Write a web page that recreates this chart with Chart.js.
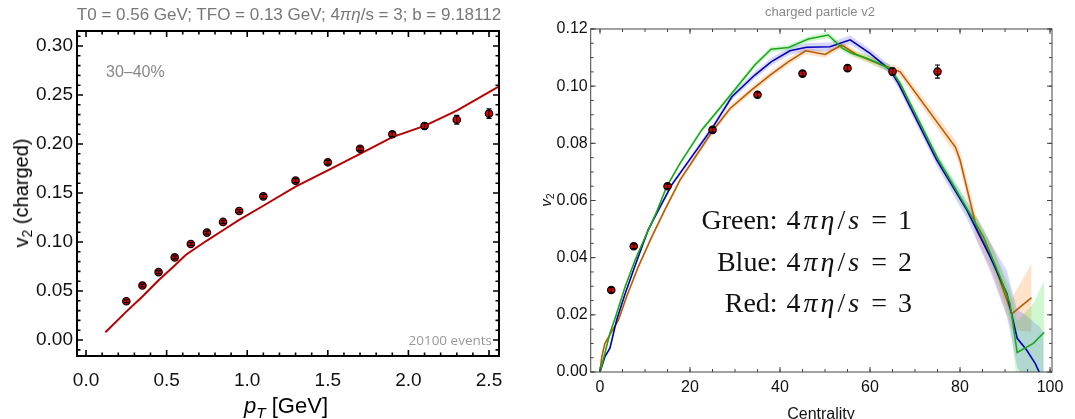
<!DOCTYPE html>
<html>
<head>
<meta charset="utf-8">
<script src="https://cdn.jsdelivr.net/npm/chart.js@4.4.0/dist/chart.umd.min.js"></script>
<style>
  body { margin: 0; width: 1075px; height: 419px; overflow: hidden; background: #fff; position: relative;
         font-family: "Liberation Sans", Arial, sans-serif; }
  canvas { position: absolute; top: 0; }
  #ptChart { left: 0; }
  #centChart { left: 540px; }
  .t { position: absolute; white-space: nowrap; line-height: 1; }
  .c { transform: translate(-50%, -50%); }
  .rot { transform: translate(-50%, -50%) rotate(-90deg); }
  .sub { font-size: 0.7em; position: relative; top: 0.3em; }
  .math { font-family: "Liberation Serif", "Times New Roman", serif; font-size: 28px; color: #111; transform: translateY(-50%); }
  .math .f { letter-spacing: 3px; margin-left: 9px; }
  .math .eq { margin: 0 11px 0 9px; }
</style>
</head>
<body>
<canvas id="ptChart" width="540" height="419"></canvas>
<canvas id="centChart" width="535" height="419"></canvas>

<!-- left panel texts -->
<div class="t c" style="left:289px;top:14px;font-size:17px;color:#777;">T0 = 0.56 GeV; TFO = 0.13 GeV; 4<i>πη</i>/s = 3; b = 9.18112</div>
<div class="t" style="left:106px;top:64px;font-size:16px;color:#888;">30–40%</div>
<div class="t" style="right:583px;top:334px;font-size:13.5px;color:#999;font-family:'Open Sans',sans-serif;">20100 events</div>
<div class="t rot" style="left:21px;top:193px;font-size:20px;color:#000;">v<span class="sub">2</span> (charged)</div>
<div class="t c" style="left:286px;top:406px;font-size:22px;color:#000;"><i>p</i><span class="sub"><i>T</i></span> [GeV]</div>

<!-- right panel texts -->
<div class="t c" style="left:820px;top:11px;font-size:13px;color:#888;">charged particle v2</div>
<div class="t rot" style="left:545px;top:200px;font-size:15px;color:#111;"><i>v</i><span class="sub">2</span></div>
<div class="t c" style="left:821px;top:414px;font-size:16px;color:#111;">Centrality</div>
<div class="t math" style="right:163px;top:220px;">Green:<span class="f">4<i>πη</i>/<i>s</i></span><span class="eq">=</span>1</div>
<div class="t math" style="right:163px;top:262px;">Blue:<span class="f">4<i>πη</i>/<i>s</i></span><span class="eq">=</span>2</div>
<div class="t math" style="right:163px;top:303px;">Red:<span class="f">4<i>πη</i>/<i>s</i></span><span class="eq">=</span>3</div>

<script>
// ---- left panel: v2(pT), 30-40% ----
const ptX   = [0.25, 0.35, 0.45, 0.55, 0.65, 0.75, 0.85, 0.95, 1.1, 1.3, 1.5, 1.7, 1.9, 2.1, 2.3, 2.5];
const ptV2  = [0.0396, 0.0556, 0.0693, 0.0843, 0.0980, 0.1096, 0.1205, 0.1317, 0.1466, 0.1626, 0.1813, 0.1952, 0.2099, 0.2184, 0.2248, 0.2310];
const ptErr = [0.0015, 0.0015, 0.0015, 0.0015, 0.0015, 0.0015, 0.0015, 0.0015, 0.002, 0.002, 0.002, 0.002, 0.0025, 0.003, 0.0045, 0.0048];
const hydroPt = [0.12, 0.25, 0.35, 0.45, 0.55, 0.62, 0.75, 0.85, 0.95, 1.1, 1.3, 1.5, 1.7, 1.9, 2.1, 2.3, 2.6];
const hydroV2 = [0.008, 0.029, 0.0445, 0.061, 0.076, 0.087, 0.1015, 0.112, 0.1225, 0.137, 0.1565, 0.173, 0.190, 0.207, 0.2185, 0.234, 0.2625];
const ptTicksX = [0, 0.5, 1.0, 1.5, 2.0, 2.5];
const ptTicksY = [0, 0.05, 0.10, 0.15, 0.20, 0.25, 0.30];

// ---- right panel: v2 vs centrality ----
const centX   = [2.5, 7.5, 15, 25, 35, 45, 55, 65, 75];
const centV2  = [0.0287, 0.0440, 0.0650, 0.0847, 0.0970, 0.1044, 0.1063, 0.1051, 0.1051];
const centErr = [0.0008, 0.0008, 0.0008, 0.0008, 0.0009, 0.0009, 0.001, 0.0012, 0.0023];

const greenX = [0, 0.7, 2.2, 3.7, 5.6, 7.8, 10.4, 12.6, 14.8, 17.7, 22.6, 26.3, 31.1, 34.4, 38.0, 41.9, 46.3, 50.7, 53.9, 55.9, 59.3, 64.4, 66.7, 75.2, 82.2, 85.2, 88.9, 91.1, 92.7, 96.3, 98.7];
const greenY = [0, 0.0042, 0.0135, 0.0205, 0.0299, 0.0392, 0.0485, 0.0561, 0.0648, 0.0728, 0.0847, 0.0917, 0.1010, 0.1074, 0.1129, 0.1135, 0.1165, 0.1179, 0.1132, 0.1115, 0.1098, 0.1062, 0.1010, 0.0742, 0.0555, 0.0473, 0.0333, 0.0240, 0.0068, 0.0100, 0.0139];
const greenE = [0.0005, 0.0005, 0.0005, 0.0006, 0.0006, 0.0006, 0.0006, 0.0006, 0.0007, 0.0007, 0.0008, 0.0008, 0.0009, 0.001, 0.001, 0.001, 0.001, 0.0011, 0.0011, 0.0011, 0.0012, 0.0013, 0.0014, 0.0018, 0.0025, 0.003, 0.004, 0.006, 0.011, 0.014, 0.018];

const blueX = [0, 1.1, 2.2, 3.7, 5.6, 8.1, 10.7, 13.0, 15.9, 25, 29.3, 34.4, 38.1, 42.2, 45.9, 51.1, 55.6, 60.0, 64.4, 66.3, 74.8, 81.5, 86.7, 90.4, 92.7, 94.8, 96.7, 97.6, 98.5];
const blueY = [0, 0.0054, 0.0083, 0.0182, 0.0275, 0.0386, 0.0497, 0.0567, 0.0654, 0.0855, 0.0963, 0.1039, 0.1086, 0.1124, 0.1136, 0.1138, 0.1162, 0.1115, 0.1057, 0.1010, 0.0742, 0.0567, 0.0403, 0.0275, 0.0118, 0.0077, 0.0030, 0.0, -0.003];
const blueE = [0.0005, 0.0005, 0.0005, 0.0006, 0.0006, 0.0007, 0.0007, 0.0008, 0.0008, 0.001, 0.0011, 0.0012, 0.0013, 0.0014, 0.0015, 0.0015, 0.0015, 0.0015, 0.0016, 0.0017, 0.002, 0.003, 0.005, 0.008, 0.010, 0.012, 0.014, 0.016, 0.017];

const orangeX = [0, 0.4, 1.1, 2.6, 4.1, 5.9, 8.5, 11.5, 14.4, 17.8, 25, 28.9, 33.7, 37.8, 41.9, 45.7, 50.0, 53.7, 57.0, 60.7, 65.2, 66.7, 79.0, 80.0, 83.6, 87.4, 91.5, 95.9];
const orangeY = [0.0003, 0.0054, 0.0100, 0.0141, 0.0182, 0.0263, 0.0368, 0.0473, 0.0567, 0.0672, 0.0843, 0.0922, 0.0987, 0.1039, 0.1086, 0.1124, 0.1111, 0.1144, 0.1111, 0.1086, 0.1059, 0.1050, 0.0786, 0.0742, 0.0508, 0.0386, 0.0203, 0.0260];
const orangeE = [0.0005, 0.0005, 0.0005, 0.0006, 0.0006, 0.0007, 0.0007, 0.0008, 0.0008, 0.0009, 0.001, 0.0011, 0.0012, 0.0012, 0.0012, 0.0012, 0.0012, 0.0012, 0.0012, 0.0013, 0.0014, 0.0015, 0.0025, 0.003, 0.004, 0.005, 0.0055, 0.012];

const centTicksX = [0, 20, 40, 60, 80, 100];
const centTicksY = [0, 0.02, 0.04, 0.06, 0.08, 0.10, 0.12];

function pts(xs, ys) { return xs.map((x, i) => ({ x: x, y: ys[i] })); }
function shifted(xs, ys, es, sign) { return xs.map((x, i) => ({ x: x, y: ys[i] + sign * es[i] })); }

// frame with inward major/minor ticks on all four sides, plus error bars
const framePlugin = {
    id: 'frame',
    afterDatasetsDraw(chart) {
        const ctx = chart.ctx;
        const ys = chart.scales.y;
        const xs = chart.scales.x;
        chart.data.datasets.forEach(ds => {
            if (!ds.errors) return;
            ctx.save();
            ctx.strokeStyle = '#000';
            ctx.lineWidth = 1.2;
            ds.data.forEach((p, i) => {
                const px = xs.getPixelForValue(p.x);
                const y1 = ys.getPixelForValue(p.y - ds.errors[i]);
                const y2 = ys.getPixelForValue(p.y + ds.errors[i]);
                ctx.beginPath();
                ctx.moveTo(px, y1); ctx.lineTo(px, y2);
                ctx.moveTo(px - 2.5, y1); ctx.lineTo(px + 2.5, y1);
                ctx.moveTo(px - 2.5, y2); ctx.lineTo(px + 2.5, y2);
                ctx.stroke();
            });
            ctx.restore();
        });
    },
    afterDraw(chart, args, o) {
        const ctx = chart.ctx;
        const a = chart.chartArea;
        const xs = chart.scales.x;
        const ys = chart.scales.y;
        ctx.save();
        ctx.strokeStyle = o.color;
        ctx.lineWidth = o.tickWidth;
        ctx.beginPath();
        const drawX = (v, len) => {
            const px = xs.getPixelForValue(v);
            ctx.moveTo(px, a.bottom); ctx.lineTo(px, a.bottom - len);
            ctx.moveTo(px, a.top); ctx.lineTo(px, a.top + len);
        };
        const drawY = (v, len) => {
            const py = ys.getPixelForValue(v);
            ctx.moveTo(a.left, py); ctx.lineTo(a.left + len, py);
            ctx.moveTo(a.right, py); ctx.lineTo(a.right - len, py);
        };
        for (let k = Math.ceil(xs.min / o.xMinor); k * o.xMinor <= xs.max; k++) drawX(k * o.xMinor, o.minorLen);
        for (let k = Math.ceil(ys.min / o.yMinor); k * o.yMinor <= ys.max + 1e-9; k++) drawY(k * o.yMinor, o.minorLen);
        xs.ticks.forEach(t => drawX(t.value, o.majorLen));
        ys.ticks.forEach(t => drawY(t.value, o.majorLen));
        ctx.stroke();
        ctx.lineWidth = o.frameWidth;
        ctx.strokeRect(a.left, a.top, a.right - a.left, a.bottom - a.top);
        ctx.restore();
    }
};

function axis(min, max, ticks, digits, font, pad, fit) {
    return {
        type: 'linear', min: min, max: max,
        grid: { display: false, drawTicks: false },
        border: { display: false },
        ticks: { font: font, color: '#111', padding: pad, callback: v => v.toFixed(digits) },
        afterBuildTicks: s => { s.ticks = ticks.map(v => ({ value: v })); },
        afterFit: fit
    };
}

// 1. v2 vs pT
new Chart(document.getElementById('ptChart').getContext('2d'), {
    type: 'line',
    data: {
        datasets: [{
            data: pts(ptX, ptV2),
            errors: ptErr,
            showLine: false,
            pointRadius: 3.7,
            pointBackgroundColor: '#e00000',
            pointBorderColor: '#000',
            pointBorderWidth: 1.2,
            order: 0
        }, {
            data: pts(hydroPt, hydroV2),
            borderColor: '#b80000',
            borderWidth: 2,
            pointRadius: 0,
            tension: 0,
            order: 1
        }]
    },
    options: {
        responsive: false,
        animation: false,
        devicePixelRatio: 1,
        layout: { padding: { top: 31, right: 41, bottom: 0, left: 0 } },
        scales: {
            x: axis(-0.056, 2.562, ptTicksX, 1, { family: 'Liberation Sans', size: 19 }, 13, s => { s.height = 63; }),
            y: axis(-0.0163, 0.3153, ptTicksY, 2, { family: 'Liberation Sans', size: 19 }, 4, s => { s.width = 77; })
        },
        plugins: {
            legend: { display: false },
            tooltip: { enabled: false },
            frame: { color: '#000', frameWidth: 2, tickWidth: 1.6, majorLen: 6, minorLen: 3.5, xMinor: 0.1, yMinor: 0.01 }
        }
    },
    plugins: [framePlugin]
});

// 2. v2 vs centrality, three viscosities with bands
function curve(xs, ys, es, color, band) {
    return [{
        data: pts(xs, ys), borderColor: color, borderWidth: 1.6, pointRadius: 0, tension: 0, fill: false, order: 1
    }, {
        data: shifted(xs, ys, es, 1), borderWidth: 0, pointRadius: 0, tension: 0, fill: '+1', backgroundColor: band, order: 3
    }, {
        data: shifted(xs, ys, es, -1), borderWidth: 0, pointRadius: 0, tension: 0, fill: false, order: 3
    }];
}

new Chart(document.getElementById('centChart').getContext('2d'), {
    type: 'line',
    data: {
        datasets: [{
            data: pts(centX, centV2),
            errors: centErr,
            showLine: false,
            pointRadius: 3.7,
            pointBackgroundColor: '#e00000',
            pointBorderColor: '#000',
            pointBorderWidth: 1.2,
            order: 0
        }].concat(
            curve(greenX, greenY, greenE, '#1aa81a', 'rgba(40,220,40,0.22)'),
            curve(blueX, blueY, blueE, '#0000b4', 'rgba(70,70,255,0.22)'),
            curve(orangeX, orangeY, orangeE, '#b85c00', 'rgba(255,150,60,0.28)')
        )
    },
    options: {
        responsive: false,
        animation: false,
        devicePixelRatio: 1,
        layout: { padding: { top: 29, right: 23, bottom: 0, left: 0 } },
        scales: {
            x: axis(-2.07, 100.44, centTicksX, 0, { family: 'Liberation Sans', size: 16 }, 6, s => { s.height = 47; }),
            y: axis(0, 0.12, centTicksY, 2, { family: 'Liberation Sans', size: 16 }, 3, s => { s.width = 50.7; })
        },
        plugins: {
            legend: { display: false },
            tooltip: { enabled: false },
            frame: { color: '#444', frameWidth: 1, tickWidth: 1, majorLen: 5, minorLen: 3, xMinor: 5, yMinor: 0.005 }
        }
    },
    plugins: [framePlugin]
});
</script>
</body>
</html>
